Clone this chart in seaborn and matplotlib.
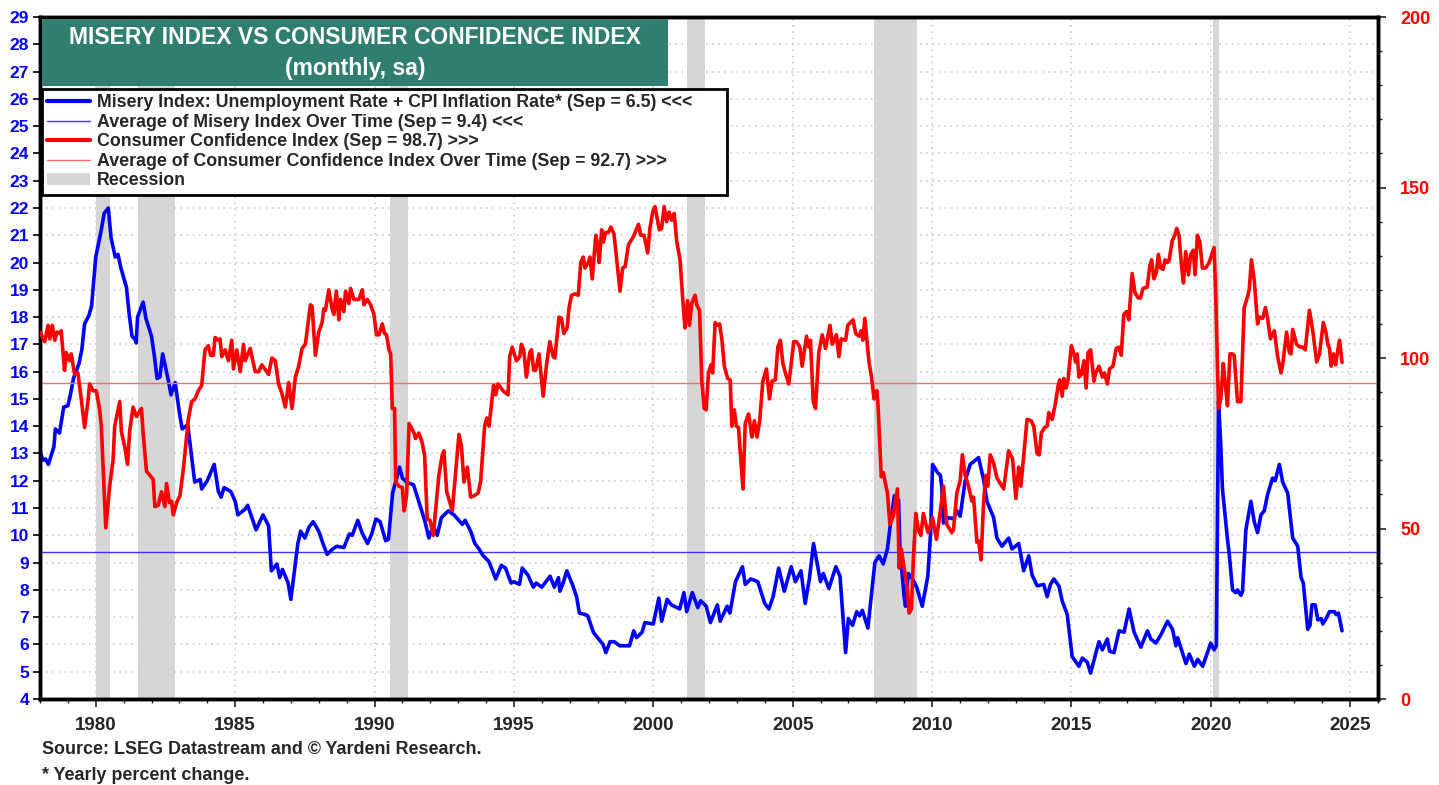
import matplotlib
matplotlib.use("Agg")
import matplotlib.pyplot as plt
from matplotlib.lines import Line2D
from matplotlib.patches import Patch, Rectangle
from matplotlib.ticker import MultipleLocator
import pandas as pd
import seaborn as sns

# misery index (left axis)
misery_year = [1978.0, 1978.1, 1978.2, 1978.3, 1978.5, 1978.55, 1978.7, 1978.8, 1978.85, 1979.0, 1979.1, 1979.2,
               1979.4, 1979.5, 1979.6, 1979.75, 1979.85, 1980.0, 1980.2, 1980.3, 1980.45, 1980.55, 1980.7, 1980.8,
               1980.9, 1981.1, 1981.2, 1981.3, 1981.4, 1981.45, 1981.5, 1981.7, 1981.8, 1982.0, 1982.1, 1982.2,
               1982.3, 1982.4, 1982.6, 1982.7, 1982.85, 1983.0, 1983.1, 1983.3, 1983.55, 1983.75, 1983.8, 1984.0,
               1984.25, 1984.4, 1984.5, 1984.6, 1984.85, 1985.0, 1985.1, 1985.35, 1985.45, 1985.75, 1986.0, 1986.2,
               1986.3, 1986.5, 1986.6, 1986.7, 1986.9, 1987.0, 1987.25, 1987.35, 1987.5, 1987.65, 1987.8, 1988.0,
               1988.15, 1988.3, 1988.5, 1988.65, 1988.9, 1989.1, 1989.2, 1989.4, 1989.55, 1989.75, 1989.9, 1990.05,
               1990.2, 1990.4, 1990.5, 1990.65, 1990.9, 1991.0, 1991.15, 1991.4, 1991.8, 1991.95, 1992.1, 1992.25,
               1992.4, 1992.65, 1992.85, 1993.15, 1993.25, 1993.45, 1993.6, 1993.75, 1993.9, 1994.1, 1994.35, 1994.55,
               1994.7, 1994.9, 1995.0, 1995.2, 1995.3, 1995.5, 1995.7, 1995.8, 1996.0, 1996.3, 1996.45, 1996.6,
               1996.65, 1996.75, 1996.9, 1997.1, 1997.25, 1997.35, 1997.55, 1997.65, 1997.85, 1998.0, 1998.2, 1998.3,
               1998.45, 1998.6, 1998.8, 1999.15, 1999.3, 1999.4, 1999.6, 1999.7, 2000.0, 2000.2, 2000.3, 2000.5,
               2000.65, 2000.95, 2001.1, 2001.2, 2001.4, 2001.6, 2001.7, 2001.9, 2002.05, 2002.3, 2002.4, 2002.65,
               2002.75, 2002.95, 2003.2, 2003.3, 2003.5, 2003.75, 2004.0, 2004.15, 2004.3, 2004.5, 2004.7, 2004.95,
               2005.1, 2005.3, 2005.45, 2005.6, 2005.75, 2006.0, 2006.1, 2006.3, 2006.55, 2006.7, 2006.9, 2007.0,
               2007.15, 2007.3, 2007.4, 2007.5, 2007.7, 2007.95, 2008.1, 2008.25, 2008.4, 2008.5, 2008.65, 2008.8,
               2008.85, 2009.0, 2009.05, 2009.15, 2009.3, 2009.45, 2009.65, 2009.85, 2009.95, 2010.02, 2010.2, 2010.3,
               2010.35, 2010.41, 2010.59, 2010.77, 2010.89, 2011.01, 2011.19, 2011.37, 2011.55, 2011.67, 2011.85,
               2011.97, 2012.21, 2012.33, 2012.51, 2012.75, 2012.87, 2013.11, 2013.29, 2013.47, 2013.59, 2013.77,
               2014.01, 2014.13, 2014.25, 2014.37, 2014.55, 2014.67, 2014.85, 2015.03, 2015.27, 2015.39, 2015.57,
               2015.69, 2015.87, 2015.99, 2016.11, 2016.29, 2016.37, 2016.53, 2016.71, 2016.89, 2017.07, 2017.25,
               2017.49, 2017.73, 2017.85, 2018.03, 2018.21, 2018.45, 2018.63, 2018.75, 2018.81, 2019.11, 2019.23,
               2019.41, 2019.53, 2019.71, 2020.0, 2020.12, 2020.2, 2020.28, 2020.36, 2020.42, 2020.6, 2020.66,
               2020.78, 2020.9, 2020.96, 2021.08, 2021.14, 2021.26, 2021.44, 2021.56, 2021.68, 2021.8, 2021.92,
               2022.04, 2022.22, 2022.31, 2022.46, 2022.58, 2022.76, 2022.94, 2023.12, 2023.24, 2023.32, 2023.48,
               2023.56, 2023.63, 2023.75, 2023.84, 2023.96, 2024.02, 2024.14, 2024.26, 2024.44, 2024.5, 2024.58,
               2024.71]
misery_val = [13.1, 12.75, 12.8, 12.6, 13.25, 13.9, 13.75, 14.4, 14.7, 14.75, 15.2, 15.75,
              16.3, 16.8, 17.75, 18.05, 18.4, 20.2, 21.2, 21.8, 22.0, 20.9, 20.2, 20.3,
              19.8, 19.1, 18.1, 17.3, 17.2, 17.05, 18.0, 18.55, 17.95, 17.3, 16.6, 15.75,
              15.8, 16.65, 15.7, 15.15, 15.6, 14.5, 13.9, 14.05, 11.95, 12.05, 11.7, 12.0,
              12.6, 11.6, 11.4, 11.75, 11.6, 11.25, 10.75, 10.95, 11.1, 10.2, 10.75, 10.35,
              8.7, 8.95, 8.45, 8.75, 8.25, 7.65, 9.7, 10.15, 9.9, 10.3, 10.5, 10.15,
              9.7, 9.3, 9.5, 9.6, 9.55, 10.05, 10.0, 10.55, 10.1, 9.7, 10.05, 10.6,
              10.5, 9.8, 9.85, 11.55, 12.5, 12.1, 11.95, 11.85, 10.55, 9.9, 10.35, 10.0,
              10.65, 10.9, 10.75, 10.4, 10.55, 10.15, 9.7, 9.5, 9.25, 9.05, 8.4, 8.9,
              8.8, 8.25, 8.3, 8.2, 8.8, 8.55, 8.1, 8.25, 8.1, 8.5, 8.1, 8.45,
              7.95, 8.2, 8.7, 8.2, 7.75, 7.15, 7.1, 7.05, 6.45, 6.25, 6.0, 5.7,
              6.1, 6.1, 5.95, 5.95, 6.5, 6.25, 6.45, 6.8, 6.75, 7.7, 6.85, 7.65,
              7.45, 7.3, 7.9, 7.2, 7.9, 7.35, 7.6, 7.4, 6.8, 7.45, 6.85, 7.4,
              7.15, 8.3, 8.85, 8.2, 8.4, 8.3, 7.5, 7.3, 7.75, 8.8, 7.95, 8.85,
              8.3, 8.7, 7.5, 8.4, 9.7, 8.3, 8.6, 8.05, 8.85, 8.5, 5.7, 6.95,
              6.7, 7.2, 7.05, 7.25, 6.6, 9.0, 9.25, 8.95, 9.5, 10.35, 11.45, 11.3,
              9.5, 7.75, 7.4, 8.6, 8.4, 8.1, 7.4, 8.5, 10.1, 12.6, 12.3, 12.2,
              11.8, 10.45, 10.65, 10.6, 10.9, 10.7, 12.0, 12.6, 12.75, 12.85, 12.05,
              11.25, 10.65, 9.9, 9.6, 9.9, 9.5, 9.7, 8.7, 9.25, 8.55, 8.15,
              8.2, 7.75, 8.2, 8.4, 8.15, 7.6, 7.1, 5.55, 5.2, 5.5, 5.35,
              4.95, 5.65, 6.1, 5.8, 6.2, 5.75, 5.7, 6.5, 6.45, 7.3, 6.45,
              5.9, 6.5, 6.2, 6.05, 6.35, 6.85, 6.55, 5.95, 6.25, 5.3, 5.65,
              5.2, 5.45, 5.2, 6.05, 5.8, 5.95, 14.9, 13.3, 11.7, 9.85, 9.35,
              8.0, 7.9, 8.0, 7.8, 7.95, 10.2, 11.25, 10.5, 10.1, 10.75, 10.9,
              11.5, 12.1, 12.0, 12.6, 11.95, 11.55, 9.9, 9.6, 8.45, 8.25, 6.55,
              6.7, 7.45, 7.45, 6.9, 6.95, 6.75, 6.95, 7.2, 7.2, 7.1, 7.15,
              6.5]

# consumer confidence index (right axis)
cci_year = [1978.0, 1978.17, 1978.29, 1978.35, 1978.44, 1978.53, 1978.61, 1978.71, 1978.76, 1978.88, 1978.94,
            1979.06, 1979.12, 1979.24, 1979.36, 1979.48, 1979.6, 1979.72, 1979.78, 1979.9, 1980.02, 1980.14,
            1980.2, 1980.36, 1980.5, 1980.62, 1980.68, 1980.86, 1980.92, 1981.04, 1981.14, 1981.22, 1981.34,
            1981.46, 1981.64, 1981.7, 1981.82, 1982.06, 1982.12, 1982.24, 1982.36, 1982.48, 1982.54, 1982.64,
            1982.72, 1982.78, 1982.9, 1983.02, 1983.15, 1983.32, 1983.44, 1983.56, 1983.68, 1983.8, 1983.92,
            1984.04, 1984.12, 1984.22, 1984.28, 1984.4, 1984.46, 1984.52, 1984.64, 1984.76, 1984.88, 1984.94,
            1985.06, 1985.18, 1985.3, 1985.36, 1985.54, 1985.72, 1985.84, 1985.96, 1986.2, 1986.32, 1986.44,
            1986.56, 1986.68, 1986.8, 1986.92, 1987.04, 1987.16, 1987.28, 1987.4, 1987.52, 1987.7, 1987.76,
            1987.88, 1988.0, 1988.12, 1988.18, 1988.24, 1988.36, 1988.48, 1988.54, 1988.63, 1988.72, 1988.78,
            1988.9, 1988.96, 1989.08, 1989.14, 1989.26, 1989.44, 1989.56, 1989.62, 1989.74, 1989.86, 1989.98,
            1990.07, 1990.16, 1990.28, 1990.36, 1990.43, 1990.52, 1990.58, 1990.64, 1990.72, 1990.76, 1990.88,
            1991.0, 1991.06, 1991.15, 1991.24, 1991.42, 1991.47, 1991.59, 1991.71, 1991.8, 1991.89, 1991.99,
            1992.11, 1992.19, 1992.31, 1992.43, 1992.49, 1992.59, 1992.79, 1993.03, 1993.12, 1993.21, 1993.33,
            1993.45, 1993.57, 1993.72, 1993.81, 1993.95, 1994.03, 1994.11, 1994.27, 1994.35, 1994.43, 1994.61,
            1994.79, 1994.85, 1994.94, 1995.09, 1995.21, 1995.27, 1995.35, 1995.45, 1995.57, 1995.63, 1995.71,
            1995.78, 1995.9, 1996.05, 1996.17, 1996.29, 1996.41, 1996.47, 1996.62, 1996.71, 1996.79, 1996.91,
            1996.98, 1997.07, 1997.19, 1997.31, 1997.4, 1997.49, 1997.55, 1997.67, 1997.73, 1997.81, 1997.94,
            1997.99, 1998.06, 1998.15, 1998.21, 1998.29, 1998.39, 1998.48, 1998.59, 1998.69, 1998.81, 1998.9,
            1998.99, 1999.11, 1999.29, 1999.47, 1999.55, 1999.67, 1999.8, 1999.88, 1999.98, 2000.06, 2000.22,
            2000.3, 2000.39, 2000.48, 2000.57, 2000.66, 2000.75, 2000.84, 2000.96, 2001.08, 2001.14, 2001.23,
            2001.3, 2001.38, 2001.5, 2001.56, 2001.66, 2001.74, 2001.83, 2001.9, 2001.98, 2002.07, 2002.13,
            2002.22, 2002.31, 2002.38, 2002.46, 2002.55, 2002.67, 2002.76, 2002.82, 2002.91, 2002.98, 2003.06,
            2003.15, 2003.22, 2003.3, 2003.42, 2003.54, 2003.63, 2003.72, 2003.82, 2003.93, 2004.06, 2004.17,
            2004.26, 2004.38, 2004.47, 2004.56, 2004.65, 2004.74, 2004.86, 2004.94, 2005.04, 2005.14, 2005.26,
            2005.34, 2005.5, 2005.58, 2005.64, 2005.74, 2005.82, 2005.94, 2006.06, 2006.18, 2006.34, 2006.42,
            2006.57, 2006.66, 2006.74, 2006.9, 2006.98, 2007.17, 2007.26, 2007.38, 2007.46, 2007.52, 2007.59,
            2007.74, 2007.83, 2007.92, 2008.02, 2008.06, 2008.18, 2008.25, 2008.4, 2008.49, 2008.61, 2008.76,
            2008.82, 2008.9, 2009.0, 2009.12, 2009.18, 2009.26, 2009.33, 2009.42, 2009.51, 2009.6, 2009.69,
            2009.78, 2009.86, 2010.02, 2010.16, 2010.32, 2010.41, 2010.53, 2010.71, 2010.77, 2010.89, 2011.01,
            2011.09, 2011.19, 2011.31, 2011.43, 2011.49, 2011.61, 2011.67, 2011.76, 2011.85, 2011.93, 2012.0,
            2012.09, 2012.21, 2012.33, 2012.45, 2012.57, 2012.75, 2012.89, 2013.01, 2013.11, 2013.19, 2013.41,
            2013.56, 2013.65, 2013.77, 2013.85, 2013.92, 2014.04, 2014.13, 2014.19, 2014.31, 2014.43, 2014.52,
            2014.58, 2014.67, 2014.73, 2014.81, 2014.88, 2015.0, 2015.09, 2015.15, 2015.21, 2015.27, 2015.36,
            2015.45, 2015.53, 2015.6, 2015.69, 2015.81, 2015.87, 2015.99, 2016.11, 2016.19, 2016.29, 2016.37,
            2016.49, 2016.61, 2016.7, 2016.79, 2016.88, 2016.98, 2017.06, 2017.18, 2017.28, 2017.4, 2017.48,
            2017.57, 2017.72, 2017.81, 2017.88, 2017.96, 2018.05, 2018.12, 2018.2, 2018.29, 2018.36, 2018.44,
            2018.5, 2018.62, 2018.71, 2018.78, 2018.86, 2018.95, 2019.02, 2019.1, 2019.2, 2019.28, 2019.37,
            2019.44, 2019.52, 2019.61, 2019.7, 2019.82, 2019.94, 2020.04, 2020.12, 2020.18, 2020.28, 2020.36,
            2020.45, 2020.52, 2020.6, 2020.69, 2020.78, 2020.84, 2020.96, 2021.08, 2021.2, 2021.32, 2021.38,
            2021.46, 2021.56, 2021.68, 2021.74, 2021.86, 2021.96, 2022.04, 2022.14, 2022.28, 2022.4, 2022.52,
            2022.58, 2022.72, 2022.82, 2022.88, 2022.94, 2023.08, 2023.2, 2023.3, 2023.39, 2023.54, 2023.66,
            2023.8, 2023.9, 2024.04, 2024.14, 2024.2, 2024.26, 2024.32, 2024.4, 2024.48, 2024.56, 2024.62,
            2024.71]
cci_val = [107.6, 104.8, 109.6, 105.6, 109.6, 105.2, 107.6, 107.2, 108, 96.4, 101.6,
           99.2, 101.2, 95.2, 95.6, 88, 79.6, 87.2, 92.4, 90.4, 90.4, 84.8,
           80, 50.2, 62.4, 70, 80, 87.2, 78.4, 74, 68.8, 78.8, 85.6,
           82.8, 85.2, 78, 66.8, 64.4, 56.4, 56.8, 60.8, 56.4, 63.2, 57.6,
           58, 54, 57.6, 59.6, 68, 82, 87.2, 88, 90.4, 92, 102.4,
           103.6, 100.8, 100.8, 106, 105.2, 105.6, 100.4, 102.4, 99.2, 105.2, 96.8,
           102.4, 96, 104, 99.2, 102.8, 96, 96, 98, 95.2, 100, 99.2,
           92.4, 89.6, 85.6, 92.8, 85.2, 94.4, 97.6, 102.8, 104, 115.6, 115.2,
           100.8, 107.6, 110.4, 114.4, 114, 120, 114.4, 112.8, 119.6, 111.2, 117.2,
           113.6, 119.6, 116, 120.4, 117.2, 117.2, 120, 115.6, 117.2, 115.6, 112.8,
           106.8, 106.8, 110, 107.2, 106.8, 102.4, 101.2, 85.2, 85.2, 63.6, 62.4,
           62, 55.2, 59.6, 80.8, 78, 76.4, 78, 75.2, 71.2, 52.8, 52.4,
           48, 55.2, 65.6, 71.6, 72.8, 60.8, 55.2, 77.6, 74, 63.6, 68,
           59.2, 59.6, 60.4, 64, 80, 82.4, 80, 92, 89.2, 92.4, 90.4,
           89.2, 100.4, 103.2, 99.2, 100.4, 104, 102.4, 94.4, 101.6, 102.4, 96.4,
           96.4, 101.2, 88.8, 98, 104.8, 100.4, 100, 112, 111.6, 107.2, 108.8,
           114.8, 118.4, 118.8, 118.4, 128, 129.6, 126.4, 128, 129.6, 123.2, 136,
           134, 128, 137.6, 134, 136.8, 136.8, 138.4, 136.4, 128.8, 119.6, 126.4,
           126.8, 133.2, 135.6, 139.2, 136, 136, 130.8, 138, 142.8, 144.4, 137.6,
           138, 144.4, 140, 142.8, 140.4, 142.4, 134.4, 128.8, 114.8, 108.8, 116.8,
           109.6, 116, 118.4, 115.6, 114, 93.6, 85.2, 84.8, 95.6, 98, 95.6,
           110.4, 109.6, 110, 105.6, 97.6, 94, 93.6, 80, 84.8, 80, 79.6,
           69.2, 61.6, 80.8, 83.6, 76.8, 81.6, 76.8, 81.6, 93.2, 96.8, 88,
           93.2, 93.6, 103.2, 105.2, 98.4, 95.6, 92.4, 97.6, 104.8, 104.8, 103.2,
           97.6, 106.4, 103.2, 105.2, 87.2, 85.2, 101.6, 106.8, 102.8, 109.6, 104,
           106.8, 100.4, 105.6, 105.2, 109.6, 111.2, 107.2, 106.4, 108, 105.2, 111.6,
           98.8, 94.4, 88, 90.4, 86.8, 65.2, 66.4, 60.4, 51.2, 53.6, 61.6,
           38.4, 44, 38.4, 32, 25.2, 26.4, 40.8, 54.4, 49.6, 48, 54.4,
           51.2, 48.8, 53.2, 46.8, 56.4, 62.4, 51.2, 48.8, 49.6, 60.4, 64,
           71.6, 65.6, 62.4, 58, 59.2, 46, 46.4, 40.8, 57.6, 65.6, 62.4,
           71.6, 69.2, 64.8, 63.2, 61.6, 72.8, 70.4, 58.8, 68, 62.4, 82,
           81.6, 80, 72, 71.6, 78, 79.6, 80, 84, 82, 86.8, 91.6,
           93.6, 88.8, 94, 91.2, 93.6, 103.6, 101.2, 98.8, 101.2, 94.4, 95.2,
           99.2, 91.2, 101.6, 102.4, 93.2, 95.6, 97.6, 94.4, 95.6, 92.4, 96.8,
           97.6, 102.8, 103.2, 100.8, 112.8, 113.6, 111.2, 124.8, 119.2, 117.6, 117.6,
           120.4, 120.8, 126.8, 128.8, 123.2, 125.2, 130.4, 126.4, 126, 128.8, 128,
           128.4, 134.4, 136, 138, 136, 127.2, 122, 131.2, 124.4, 130.4, 131.6,
           124.4, 136, 134, 126.4, 126.4, 128, 130.4, 132.4, 118, 85.2, 88,
           98.4, 92.4, 86, 101.2, 101.2, 100.8, 87.2, 87.2, 114.8, 118, 120,
           128.8, 122.8, 110, 112, 111.6, 114.8, 111.6, 105.6, 108, 100.4, 95.6,
           98, 107.6, 101.6, 101.2, 108.4, 104, 103.2, 103.2, 102.4, 114, 108,
           98.8, 101.2, 110.4, 107.2, 104, 102.8, 97.6, 101.2, 98, 102.4, 105.2,
           98.7]

misery_avg = 9.4
cci_avg = 92.7
recession_start = [1980.0, 1981.5, 1990.55, 2001.2, 2007.92, 2020.08]
recession_end = [1980.5, 1982.85, 1991.2, 2001.87, 2009.45, 2020.3]

legend_labels = [
    "Misery Index: Unemployment Rate + CPI Inflation Rate* (Sep = 6.5) <<<",
    "Average of Misery Index Over Time (Sep = 9.4) <<<",
    "Consumer Confidence Index (Sep = 98.7) >>>",
    "Average of Consumer Confidence Index Over Time (Sep = 92.7) >>>",
    "Recession",
]

sns.set_style("white")
plt.rcParams['font.family'] = ['Liberation Sans', 'DejaVu Sans']
plt.rcParams['font.weight'] = 'bold'

W, H = 1439, 785
fig = plt.figure(figsize=(W / 100, H / 100), dpi=100)
ax = fig.add_axes([40 / W, 1 - 699 / H, (1378 - 40) / W, (699 - 17) / H])
ax2 = ax.twinx()

for s, e in zip(recession_start, recession_end):
    ax.axvspan(s, e, color='#d6d6d6', lw=0, zorder=1)

df_m = pd.DataFrame({'year': misery_year, 'value': misery_val})
df_c = pd.DataFrame({'year': cci_year, 'value': cci_val})

ax.axhline(misery_avg, color='#3a3aff', lw=1.0, zorder=2)
sns.lineplot(data=df_m, x='year', y='value', ax=ax, color='#0000ff', lw=2.6,
             estimator=None, sort=False, legend=False, zorder=3)
ax2.axhline(cci_avg, color='#f07070', lw=1.0, zorder=2)
sns.lineplot(data=df_c, x='year', y='value', ax=ax2, color='#ff0000', lw=2.6,
             estimator=None, sort=False, legend=False, zorder=3)

ax.set_xlim(1978.0, 2026.0)
ax.set_ylim(4, 29)
ax2.set_ylim(0, 200)
ax.set_xlabel('')
ax.set_ylabel('')
ax2.set_ylabel('')

ax.xaxis.set_major_locator(MultipleLocator(5))
ax.xaxis.set_minor_locator(MultipleLocator(1))
ax.yaxis.set_major_locator(MultipleLocator(1))
ax2.yaxis.set_major_locator(MultipleLocator(50))
ax2.yaxis.set_minor_locator(MultipleLocator(10))

ax.set_axisbelow(True)
ax.grid(True, axis='both', which='major', color='#c8c8c8', lw=1.1, linestyle=(0, (1, 3)))
ax2.grid(False)

ax.tick_params(axis='y', which='major', direction='out', length=5, width=1.2,
               colors='black', labelcolor='#0000ff', labelsize=12.5, left=True, pad=3)
ax.tick_params(axis='x', which='major', direction='out', length=6, width=1.2,
               labelsize=13.5, bottom=True, pad=7)
ax.tick_params(axis='x', which='minor', direction='out', length=3, width=1.0, bottom=True)
ax2.tick_params(axis='y', which='major', direction='out', length=6, width=1.2,
                labelcolor='#ff0000', labelsize=13, right=True, pad=10)
ax2.tick_params(axis='y', which='minor', direction='out', length=3, width=1.0, right=True)
for lab in ax.get_xticklabels() + ax.get_yticklabels() + ax2.get_yticklabels():
    lab.set_fontweight('bold')

for a in (ax, ax2):
    for sp in a.spines.values():
        sp.set_visible(True)
        sp.set_color('black')
        sp.set_linewidth(2.5)

# title box
fig.patches.append(Rectangle((42 / W, 1 - 86 / H), (668 - 42) / W, (86 - 19) / H,
                             transform=fig.transFigure, facecolor='#2f7e70', edgecolor='none', zorder=5))
fig.text(355 / W, 1 - 37 / H, "MISERY INDEX VS CONSUMER CONFIDENCE INDEX", color='white',
         fontsize=16.5, fontweight='bold', ha='center', va='center', zorder=6)
fig.text(355 / W, 1 - 69 / H, "(monthly, sa)", color='white',
         fontsize=16.5, fontweight='bold', ha='center', va='center', zorder=6)

handles = [
    Line2D([], [], color='#0000ff', lw=3),
    Line2D([], [], color='#3a3aff', lw=1),
    Line2D([], [], color='#ff0000', lw=3),
    Line2D([], [], color='#f07070', lw=1),
    Patch(facecolor='#d6d6d6', edgecolor='none'),
]
leg = ax2.legend(handles, legend_labels, loc='upper left',
                 bbox_to_anchor=(42 / W, 1 - 197 / H, (727 - 42) / W, (197 - 89) / H),
                 mode='expand', bbox_transform=fig.transFigure, frameon=True, fancybox=False,
                 framealpha=1, edgecolor='black', prop={'weight': 'bold', 'size': 12.8},
                 handlelength=2.4, handletextpad=0.4, labelspacing=0.14, borderpad=0.3,
                 borderaxespad=0)
leg.get_frame().set_linewidth(2)
leg.set_zorder(10)

fig.text(42 / W, 1 - 749 / H, "Source: LSEG Datastream and \u00a9 Yardeni Research.",
         fontsize=12.9, fontweight='bold', ha='left', va='center')
fig.text(42 / W, 1 - 775 / H, "* Yearly percent change.",
         fontsize=12.9, fontweight='bold', ha='left', va='center')

fig.savefig('out.png', dpi=100)
